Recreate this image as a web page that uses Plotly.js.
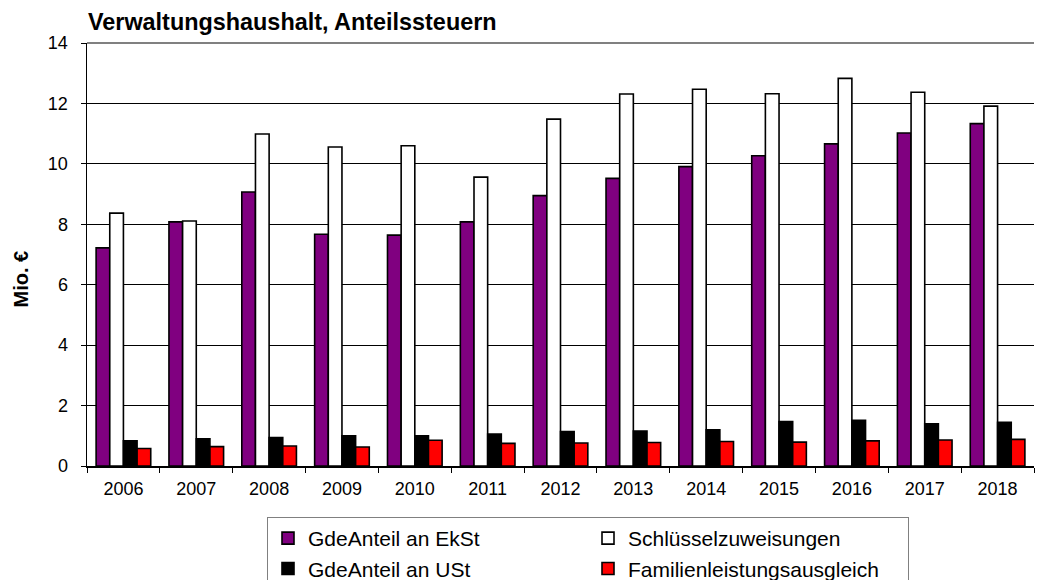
<!DOCTYPE html>
<html>
<head>
<meta charset="utf-8">
<script src="https://cdn.plot.ly/plotly-3.0.1.min.js"></script>
<style>html,body{margin:0;padding:0;background:#fff;}#chart{width:1043px;height:580px;}</style>
</head>
<body>
<div id="chart"></div>
<script>
const years = ['2006','2007','2008','2009','2010','2011','2012','2013','2014','2015','2016','2017','2018'];
const ekSt = [7.22, 8.08, 9.07, 7.67, 7.64, 8.08, 8.95, 9.52, 9.91, 10.27, 10.66, 11.02, 11.33];
const schluessel = [8.37, 8.11, 10.99, 10.56, 10.60, 9.56, 11.48, 12.31, 12.47, 12.32, 12.83, 12.37, 11.91];
const uSt = [0.83, 0.90, 0.94, 1.00, 1.00, 1.06, 1.14, 1.16, 1.20, 1.47, 1.51, 1.40, 1.45];
const familien = [0.58, 0.64, 0.66, 0.63, 0.85, 0.75, 0.76, 0.78, 0.81, 0.79, 0.83, 0.86, 0.88];
const seriesNames = ['GdeAnteil an EkSt', 'Schlüsselzuweisungen', 'GdeAnteil an USt', 'Familienleistungsausgleich'];
const seriesColors = ['#800080', '#ffffff', '#000000', '#ff0000'];
const yTicks = [0, 2, 4, 6, 8, 10, 12, 14];

const allSeries = [ekSt, schluessel, uSt, familien];
const traces = allSeries.map((vals, i) => ({
  type: 'bar',
  x: years,
  y: vals,
  name: seriesNames[i],
  marker: {color: seriesColors[i], line: {color: '#000000', width: 1.6}},
  hoverinfo: 'x+y+name'
}));

const font = 'Liberation Sans, Arial, sans-serif';
const layout = {
  width: 1043, height: 580,
  paper_bgcolor: '#ffffff', plot_bgcolor: '#ffffff',
  margin: {l: 87, r: 9, t: 43, b: 114, autoexpand: false},
  barmode: 'group', bargap: 0.25, bargroupgap: 0,
  title: {text: '<b>Verwaltungshaushalt, Anteilssteuern</b>', x: 88/1043, xanchor: 'left', xref: 'container',
          y: 1 - 22/580, yanchor: 'middle', yref: 'container', font: {family: font, size: 23.4, color: '#000'}},
  font: {family: font, size: 18, color: '#000'},
  xaxis: {type: 'category', tickson: 'boundaries', ticks: 'outside', ticklen: 5, tickcolor: '#000',
          showline: true, linecolor: '#000', linewidth: 1.5, showgrid: false, ticklabelstandoff: 6,
          tickfont: {family: font, size: 18, color: '#000'}},
  yaxis: {range: [0, 14], tickvals: yTicks, ticktext: yTicks.map(String), ticks: 'outside', ticklen: 5, tickcolor: '#000',
          showline: true, linecolor: '#000', linewidth: 1.5, showgrid: true, gridcolor: '#000', gridwidth: 1,
          zeroline: false, ticklabelstandoff: 9, tickfont: {family: font, size: 18, color: '#000'}},
  annotations: [{text: '<b>Mio. €</b>', textangle: -90, xref: 'paper', yref: 'paper',
                 x: (20.5-87)/947, y: (466-279)/423, xanchor: 'center', yanchor: 'middle', showarrow: false,
                 font: {family: font, size: 20, color: '#000'}}],
  shapes: [{type: 'line', xref: 'paper', yref: 'paper', x0: 0, x1: 1, y0: 1, y1: 1, line: {color: '#808080', width: 2}}],
  showlegend: true,
  legend: {orientation: 'h', x: (267-87)/947, xanchor: 'left', y: (466-517)/423, yanchor: 'top',
           bordercolor: '#808080', borderwidth: 1, bgcolor: '#ffffff', entrywidth: 275,
           font: {family: font, size: 21, color: '#000'}, traceorder: 'normal'}
};

Plotly.newPlot('chart', traces, layout, {displayModeBar: false, staticPlot: true});
</script>
</body>
</html>
